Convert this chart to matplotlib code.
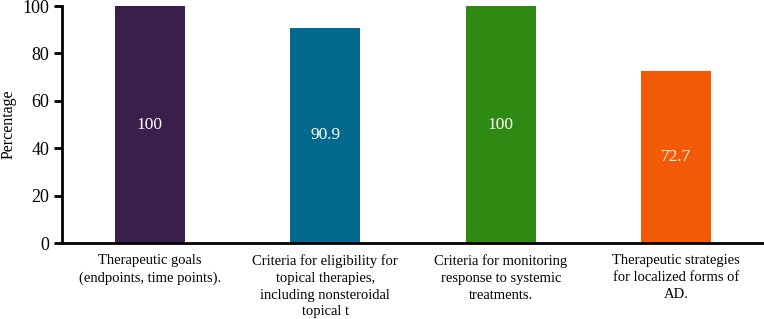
import matplotlib
matplotlib.use("Agg")
import matplotlib.pyplot as plt

categories = [
    "Therapeutic goals\n(endpoints, time points).",
    "Criteria for eligibility for\ntopical therapies,\nincluding nonsteroidal\ntopical t",
    "Criteria for monitoring\nresponse to systemic\ntreatments.",
    "Therapeutic strategies\nfor localized forms of\nAD.",
]
values = [100, 90.9, 100, 72.7]
value_labels = ["100", "90.9", "100", "72.7"]
colors = ["#3B1F4B", "#04698E", "#2E8A12", "#F25A05"]
yticks = [0, 20, 40, 60, 80, 100]

plt.rcParams['font.family'] = ['Liberation Serif', 'DejaVu Serif']

fig = plt.figure(figsize=(7.64, 3.19), dpi=100)
ax = fig.add_axes([0.081, 0.238, 0.919, 0.743])

x = list(range(len(categories)))
bars = ax.bar(x, values, width=0.4, color=colors)
for xi, v, lab in zip(x, values, value_labels):
    ax.text(xi, v / 2, lab, ha='center', va='center', color='white', fontsize=12.5)

ax.set_xlim(-0.5, 3.5)
ax.set_ylim(0, 100)
ax.set_yticks(yticks)
ax.set_xticks(x)
ax.set_xticklabels(categories, fontsize=10.5, linespacing=1.38)
ax.tick_params(axis='x', length=0, pad=8)
ax.tick_params(axis='y', length=6, width=2, labelsize=13, pad=3)
ax.set_ylabel("Percentage", fontsize=11.5, labelpad=4)
for s in ['top', 'right']:
    ax.spines[s].set_visible(False)
for s in ['left', 'bottom']:
    ax.spines[s].set_linewidth(2)

fig.savefig("out.png", dpi=100)
